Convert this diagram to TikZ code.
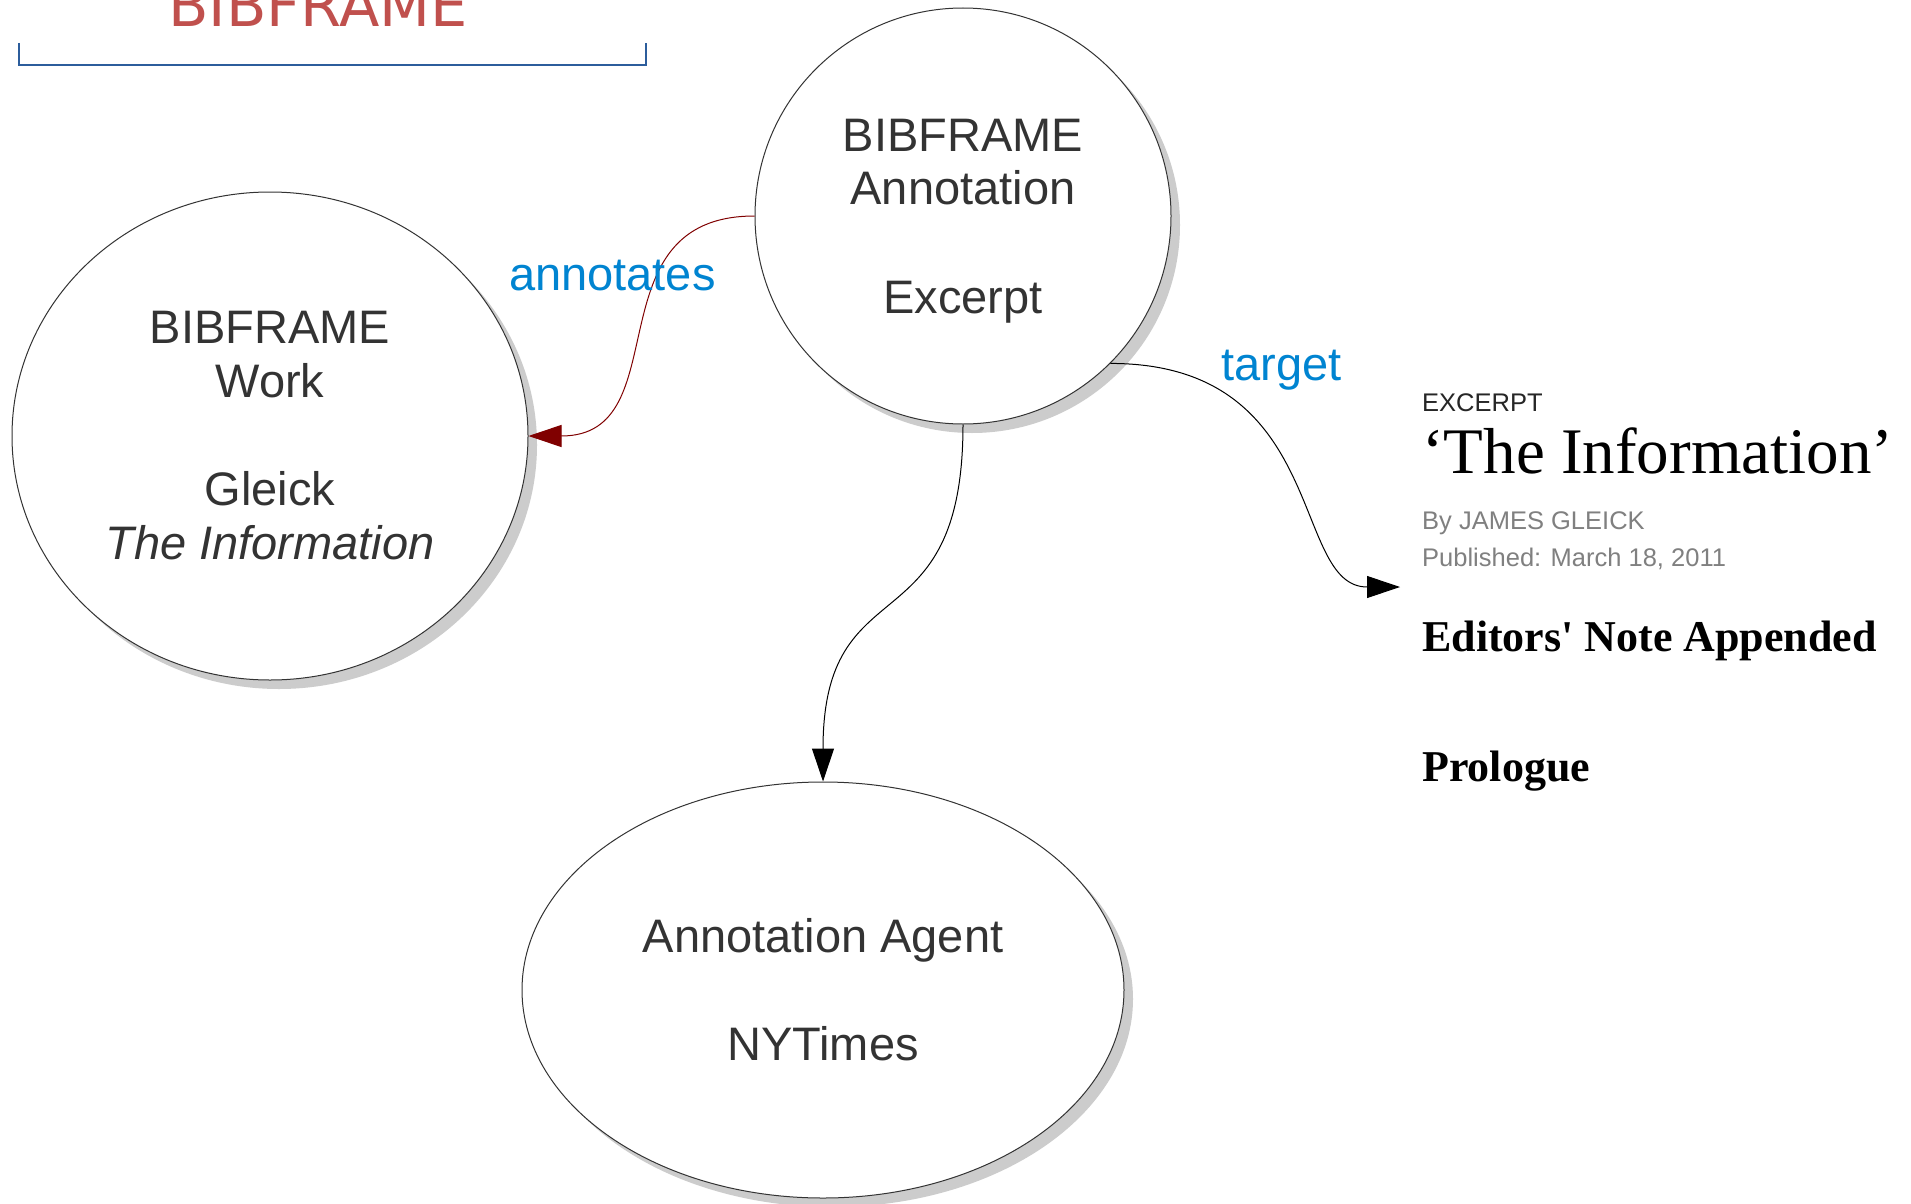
\documentclass[tikz,border=0pt]{standalone}
\usepackage{fontspec}
\setmainfont{Liberation Sans}
\newfontfamily\nytserif{Liberation Serif}
\newfontfamily\titlefont{DejaVu Sans}
\usetikzlibrary{shapes.geometric,arrows.meta,shadows}
\definecolor{txt}{HTML}{333333}
\definecolor{lblblue}{HTML}{0084D1}
\definecolor{darkred}{HTML}{800000}
\definecolor{shadowgray}{HTML}{CCCCCC}
\definecolor{titlered}{HTML}{C0504D}
\definecolor{bracketblue}{HTML}{2C5D9C}
\definecolor{bylinegray}{HTML}{808080}
\begin{document}
\begin{tikzpicture}[x=1pt,y=-1pt,
  entity/.style={draw=txt, line width=1pt, fill=white, inner sep=0pt,
    drop shadow={shadow xshift=9pt, shadow yshift=-9pt, fill=shadowgray, opacity=1},
    text=txt, align=center, font=\fontsize{47}{54}\selectfont},
  edgelabel/.style={anchor=base west, inner sep=0pt, text=lblblue, font=\fontsize{47}{54}\selectfont},
  redarrow/.style={draw=darkred, line width=1pt, -{Triangle[length=33pt,width=22pt]}, fill=none},
  blackarrow/.style={draw=black, line width=1pt, -{Triangle[length=33pt,width=22pt]}},
  shot/.style={anchor=base west, inner sep=0pt},
]
\useasboundingbox[fill=white] (0,0) rectangle (1911,1204);

% title and bracket
\node[shot, text=titlered, font=\titlefont\fontsize{59}{60}\selectfont] (title) at (168,27) {BIBFRAME};
\coordinate (bl) at (19,43);
\coordinate (br) at (646,43);
\draw[bracketblue, line width=2pt] (bl) -- (19,65) -- (646,65) -- (br);

% nodes
\node[entity, ellipse, minimum width=516pt, minimum height=488pt] (work) at (270,436)
  {BIBFRAME\\Work\\[54pt]Gleick\\\textit{The Information}};
\node[entity, circle, minimum size=416pt, text depth=0pt, font=\fontsize{47}{53}\selectfont] (ann) at (963,216)
  {BIBFRAME\\Annotation\\[56pt]Excerpt};
\node[entity, ellipse, minimum width=602pt, minimum height=416pt] (agent) at (823,990)
  {Annotation Agent\\[54pt]NYTimes};

% excerpt screenshot
\node[shot, text=black!85, font=\fontsize{25.5}{25}\selectfont] (exc) at (1422,411) {EXCERPT};
\node[shot, text=black, font=\nytserif\fontsize{65}{65}\selectfont] (head) at (1422,473) {‘The Information’};
\node[shot, text=bylinegray, font=\fontsize{25.5}{25}\selectfont] (by) at (1422,529) {By JAMES GLEICK};
\node[shot, text=bylinegray, font=\fontsize{25.5}{25}\selectfont] (pub) at (1422,566) {Published: March 18, 2011};
\node[shot, text=black, font=\nytserif\bfseries\fontsize{44}{44}\selectfont] (note) at (1422,651) {Editors' Note Appended};
\node[shot, text=black, font=\nytserif\bfseries\fontsize{44}{44}\selectfont] (prol) at (1422,781) {Prologue};
\coordinate (tgt) at (1400,587);

% connectors
\draw[redarrow] (ann.west) .. controls +(-165,0) and +(152,0) .. (work.east);
\draw[blackarrow] (ann.-45) .. controls +(220,0) and +(-110,0) .. (tgt);
\draw[blackarrow] (ann.south) .. controls +(0,227) and +(0,-220) .. (agent.north);

% edge labels
\node[edgelabel] (lannot) at (509,290) {annotates};
\node[edgelabel] (ltarget) at (1221,380) {target};
\end{tikzpicture}
\end{document}
